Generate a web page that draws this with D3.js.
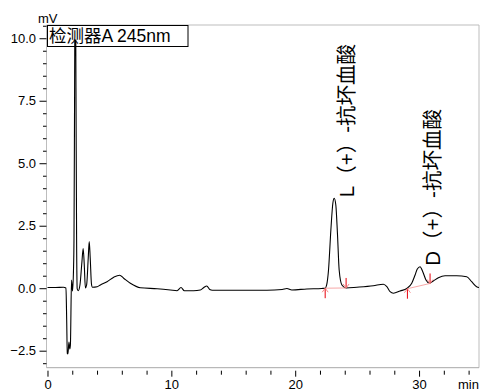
<!DOCTYPE html>
<html>
<head>
<meta charset="utf-8">
<script src="https://cdn.jsdelivr.net/npm/d3@7"></script>
<style>
  body { margin: 0; background: #fff; }
  svg { display: block; }
  text { font-family: "Liberation Sans", Arial, "Noto Sans CJK SC", sans-serif; }
</style>
</head>
<body>
<svg id="chart" width="480" height="391"></svg>
<script>
// retention time (min) and detector signal (mV)
const time = [0, 0.65, 1.29, 1.49, 1.55, 1.60, 1.65, 1.73, 1.80, 1.85, 1.94, 2.02, 2.10,
  2.14, 2.19, 2.24, 2.30, 2.35, 2.40, 2.48, 2.62, 2.78, 2.88, 2.97, 3.06, 3.16, 3.29,
  3.37, 3.45, 3.55, 3.63, 4.01, 4.27, 4.81, 5.35, 5.83, 6.15, 6.69, 7.50, 8.85, 9.92,
  10.46, 10.78, 11.05, 11.80, 12.34, 12.62, 12.86, 13.10, 13.31, 15.0, 17.72, 18.95,
  19.33, 19.73, 20.94, 22.15, 22.42, 22.54, 22.69, 22.88, 23.04, 23.15, 23.28, 23.41,
  23.55, 23.77, 24.11, 24.98, 26.31, 27.12, 27.40, 27.66, 27.93, 28.47, 29.01, 29.41,
  29.68, 29.86, 30.08, 30.30, 30.56, 30.83, 31.15, 31.56, 32.10, 33.04, 33.85, 34.25,
  34.65, 34.92]
const signal = [0.03, 0.03, 0.04, 0.01, -1.27, -2.61, -2.63, -2.15, -2.43, -2.27, 0.33, -0.11, 0.73,
  2.0, 8.0, 14.0, 8.0, 2.0, -0.03, -0.10, 0.13, 1.05, 1.59, 0.93, 0.01, 0.13, 1.21,
  1.87, 1.21, 0.17, 0.04, 0.06, 0.13, 0.26, 0.44, 0.52, 0.40, 0.20, 0.02, -0.02, -0.07,
  -0.10, 0.03, -0.10, -0.10, -0.07, 0.03, 0.09, -0.05, -0.08, -0.08, -0.08, -0.05,
  -0.01, -0.07, -0.03, -0.01, 0.0, 0.13, 0.73, 2.33, 3.40, 3.60, 3.33, 2.20,
  0.73, 0.13, 0.01, 0.04, 0.10, 0.16, 0.06, -0.14, -0.20, -0.11, -0.01, 0.20,
  0.53, 0.77, 0.86, 0.66, 0.33, 0.20, 0.29, 0.42, 0.50, 0.50, 0.46, 0.26,
  0.06, 0.02]

// integration marks of the two named peaks
const peakNames = ['L（+）-抗坏血酸', 'D（+）-抗坏血酸']
const peakStart = [[22.42, 0.0], [29.06, -0.02]]
const peakEnd = [[24.11, 0.01], [30.89, 0.19]]
const peakTop = [[23.15, 3.60], [30.08, 0.86]]

const xMajor = [0, 10, 20, 30]
const xMinor = [2, 4, 6, 8, 12, 14, 16, 18, 22, 24, 26, 28, 32, 34]
const yMajor = [-2.5, 0.0, 2.5, 5.0, 7.5, 10.0]
const detectorLabel = '检测器A 245nm'

const svg = d3.select('#chart')
const box = { left: 46.5, right: 479, top: 25, bottom: 367.7 }

const x = d3.scaleLinear().domain([-0.08, 34.84]).range([box.left, box.right])
const y = d3.scaleLinear().domain([-3.18, 10.53]).range([box.bottom, box.top])

// minor y ticks every 0.5, skipping the labelled ones
const yMinor = d3.range(-3.0, 10.51, 0.5).map(v => +v.toFixed(1))
  .filter(v => !yMajor.some(m => Math.abs(m - v) < 1e-6))

// frame
svg.append('path')
  .attr('d', `M${box.left},${box.bottom}V${box.top}H${box.right}V${box.bottom}`)
  .attr('fill', 'none')
  .attr('stroke', '#bdbdbd')
  .attr('stroke-width', 1)
svg.append('line')
  .attr('x1', box.left).attr('x2', box.right)
  .attr('y1', box.bottom).attr('y2', box.bottom)
  .attr('stroke', '#a8a8a8')

// y axis
svg.append('g')
  .attr('transform', `translate(${box.left},0)`)
  .call(d3.axisLeft(y).tickValues(yMajor).tickSize(7).tickPadding(3.5).tickFormat(d3.format('.1f')))
  .call(g => g.select('.domain').remove())
  .call(g => g.selectAll('text').attr('font-size', 13).attr('fill', '#000'))
svg.append('g')
  .attr('transform', `translate(${box.left},0)`)
  .call(d3.axisLeft(y).tickValues(yMinor).tickSize(3.5).tickFormat(''))
  .call(g => g.select('.domain').remove())

// x axis sits a little under the frame
const xAxisY = box.bottom + 3
svg.append('g')
  .attr('transform', `translate(0,${xAxisY})`)
  .call(d3.axisBottom(x).tickValues(xMajor).tickSize(6).tickPadding(3.2).tickFormat(d3.format('d')))
  .call(g => g.select('.domain').remove())
  .call(g => g.selectAll('text').attr('font-size', 13).attr('fill', '#000'))
svg.append('g')
  .attr('transform', `translate(0,${xAxisY})`)
  .call(d3.axisBottom(x).tickValues(xMinor).tickSize(4).tickFormat(''))
  .call(g => g.select('.domain').remove())

svg.append('text').attr('x', 38).attr('y', 23).attr('font-size', 13).text('mV')
svg.append('text').attr('x', 458).attr('y', 389).attr('font-size', 13).text('min')

// trace, clipped to the plot box
svg.append('clipPath').attr('id', 'plot-clip')
  .append('rect')
  .attr('x', box.left).attr('y', box.top)
  .attr('width', box.right - box.left).attr('height', box.bottom - box.top)

const line = d3.line()
  .x(d => x(d[0]))
  .y(d => y(d[1]))
  .curve(d3.curveMonotoneX)

svg.append('path')
  .datum(d3.zip(time, signal))
  .attr('clip-path', 'url(#plot-clip)')
  .attr('fill', 'none')
  .attr('stroke', '#000')
  .attr('stroke-width', 1.1)
  .attr('d', line)

// integration baseline and start/end arrows
peakStart.forEach((s, i) => {
  const e = peakEnd[i]
  svg.append('line')
    .attr('x1', x(s[0])).attr('y1', y(s[1]))
    .attr('x2', x(e[0])).attr('y2', y(e[1]))
    .attr('stroke', '#f7a8a8').attr('stroke-width', 1)
  drawArrow(x(s[0]), y(s[1]), 1)
  drawArrow(x(e[0]), y(e[1]), -1)
})

/**
 * @param px
 * @param py
 * @param dir 1 = tail below pointing up, -1 = tail above pointing down
 */
function drawArrow (px, py, dir) {
  svg.append('line')
    .attr('x1', px).attr('x2', px)
    .attr('y1', py).attr('y2', py + dir * 10)
    .attr('stroke', '#e8000b').attr('stroke-width', 1)
  svg.append('path')
    .attr('d', `M${px - 3},${py + dir * 4}L${px},${py}L${px + 3},${py + dir * 4}`)
    .attr('fill', 'none')
    .attr('stroke', '#f47c7c').attr('stroke-width', 0.9)
}

// peak names, written upwards from just above each apex
const nameShift = [12, 12]
peakTop.forEach((p, i) => {
  const tx = x(p[0]) + nameShift[i]
  const ty = y(p[1]) - 1
  svg.append('text')
    .attr('transform', `translate(${tx},${ty}) rotate(-90)`)
    .attr('font-family', '"Noto Sans CJK SC", sans-serif')
    .attr('font-size', 20.5)
    .attr('dominant-baseline', 'central')
    .text(peakNames[i])
})

// detector legend
svg.append('rect')
  .attr('x', 47.5).attr('y', 25.5).attr('width', 140.5).attr('height', 14)
  .attr('fill', '#fff')
svg.append('rect')
  .attr('x', 47.5).attr('y', 25.5).attr('width', 140.5).attr('height', 21)
  .attr('fill', 'none').attr('stroke', '#000').attr('stroke-width', 1)
svg.append('text')
  .attr('x', 49).attr('y', 41.5)
  .attr('font-size', 17.5)
  .text(detectorLabel)
</script>
</body>
</html>
